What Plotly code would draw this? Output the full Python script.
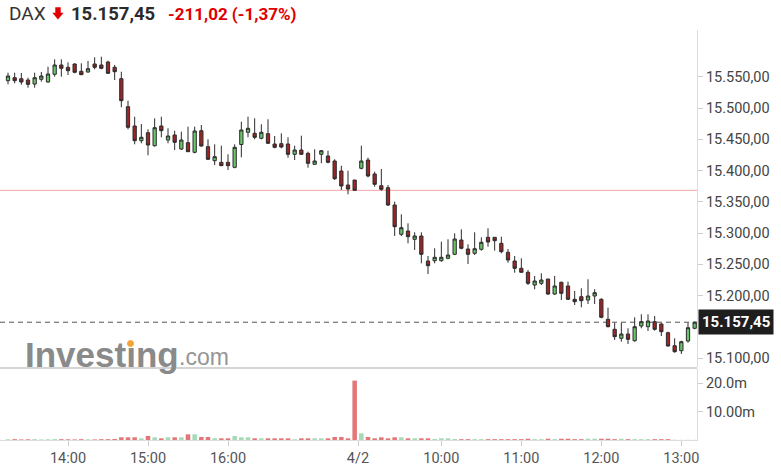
import plotly.graph_objects as go

# ---------------- data ----------------
opens = [15543.9, 15548.7, 15547.1, 15545.0, 15538.6, 15546.1, 15541.8, 15554.1, 15569.0, 15565.3,
         15570.6, 15558.9, 15557.8, 15570.6, 15569.0, 15573.8, 15565.3, 15547.1, 15502.3, 15471.4,
         15447.9, 15460.7, 15439.9, 15471.4, 15449.0, 15457.0, 15434.6, 15444.7, 15429.3, 15463.9,
         15438.3, 15415.9, 15413.3, 15413.3, 15405.3, 15441.8, 15461.3, 15459.7, 15451.7, 15459.1,
         15442.6, 15443.1, 15442.6, 15426.1, 15433.0, 15427.7, 15410.1, 15426.1, 15423.4, 15415.4,
         15399.4, 15377.0, 15385.0, 15403.7, 15417.0, 15394.6, 15375.9, 15372.7, 15345.0, 15298.1,
         15303.4, 15290.1, 15295.4, 15255.4, 15255.9, 15255.9, 15259.7, 15266.1, 15289.0, 15274.6,
         15267.7, 15274.1, 15293.3, 15293.3, 15283.7, 15269.3, 15255.4, 15243.7, 15237.3, 15217.0,
         15219.7, 15226.6, 15202.6, 15221.3, 15215.4, 15194.1, 15198.3, 15193.0, 15199.4, 15194.1,
         15162.1, 15146.1, 15131.7, 15138.6, 15127.9, 15151.4, 15150.3, 15158.3, 15154.6, 15140.7,
         15119.9, 15111.9, 15127.4, 15147.7]
highs = [15556.7, 15556.7, 15556.2, 15548.7, 15556.7, 15557.8, 15566.3, 15578.1, 15578.1, 15573.3,
         15571.7, 15571.7, 15575.4, 15581.3, 15582.3, 15575.9, 15569.0, 15558.3, 15511.9, 15486.3,
         15474.6, 15466.1, 15483.7, 15486.3, 15467.7, 15463.9, 15462.3, 15470.3, 15470.3, 15473.0,
         15450.1, 15442.1, 15439.9, 15426.1, 15442.1, 15478.3, 15486.3, 15483.7, 15474.1, 15482.1,
         15455.4, 15459.7, 15453.3, 15439.9, 15455.9, 15430.3, 15434.1, 15433.0, 15431.9, 15418.1,
         15407.9, 15399.9, 15385.0, 15439.9, 15420.7, 15398.3, 15402.6, 15377.0, 15350.3, 15330.1,
         15315.7, 15301.3, 15301.3, 15263.4, 15275.7, 15286.3, 15290.1, 15299.7, 15306.1, 15282.1,
         15301.3, 15293.3, 15307.7, 15293.3, 15294.3, 15274.6, 15263.4, 15259.7, 15241.0, 15231.4,
         15235.7, 15226.6, 15231.4, 15222.3, 15222.3, 15207.4, 15211.7, 15226.1, 15210.1, 15195.7,
         15180.7, 15156.7, 15156.7, 15147.7, 15165.3, 15170.1, 15170.1, 15167.4, 15155.7, 15142.3,
         15131.7, 15127.9, 15156.7, 15158.3]
lows = [15538.1, 15539.7, 15537.5, 15532.7, 15532.7, 15542.3, 15540.7, 15550.3, 15550.3, 15553.0,
        15555.7, 15553.0, 15556.7, 15562.1, 15562.1, 15554.6, 15545.0, 15501.3, 15466.1, 15442.1,
        15443.7, 15424.5, 15438.3, 15453.3, 15443.7, 15433.0, 15433.0, 15430.3, 15427.7, 15438.3,
        15417.0, 15409.0, 15407.4, 15401.0, 15403.7, 15421.3, 15453.3, 15450.1, 15450.1, 15442.6,
        15435.7, 15435.7, 15420.7, 15417.0, 15425.0, 15404.7, 15409.0, 15411.7, 15411.7, 15385.0,
        15369.0, 15362.1, 15367.9, 15402.1, 15389.3, 15374.3, 15367.9, 15343.4, 15295.4, 15295.4,
        15283.7, 15273.0, 15251.7, 15234.6, 15251.7, 15254.3, 15258.1, 15265.0, 15274.1, 15250.6,
        15265.0, 15271.9, 15278.3, 15271.9, 15267.7, 15252.7, 15236.7, 15236.7, 15217.0, 15210.1,
        15217.0, 15201.0, 15201.0, 15193.0, 15193.0, 15185.0, 15181.3, 15186.6, 15186.6, 15163.7,
        15149.3, 15129.0, 15126.3, 15122.6, 15126.3, 15147.7, 15143.4, 15143.9, 15135.4, 15118.3,
        15108.7, 15106.6, 15124.7, 15146.1]
closes = [15551.4, 15543.9, 15541.8, 15538.1, 15548.7, 15551.4, 15554.6, 15569.0, 15563.7, 15559.9,
          15557.3, 15553.5, 15563.1, 15565.3, 15563.7, 15555.7, 15558.3, 15511.9, 15469.3, 15447.9,
          15453.3, 15441.0, 15468.7, 15463.9, 15455.4, 15445.3, 15449.0, 15430.3, 15463.4, 15439.4,
          15418.1, 15422.3, 15407.9, 15407.9, 15437.3, 15465.0, 15467.7, 15453.3, 15461.3, 15443.7,
          15437.3, 15437.8, 15426.1, 15433.0, 15426.1, 15411.7, 15415.4, 15431.9, 15413.3, 15387.1,
          15375.4, 15370.6, 15368.5, 15415.4, 15391.4, 15378.1, 15370.1, 15345.0, 15310.3, 15308.7,
          15294.3, 15295.4, 15266.1, 15247.9, 15261.3, 15261.3, 15265.0, 15290.6, 15275.7, 15266.1,
          15275.1, 15285.3, 15285.8, 15287.9, 15270.3, 15257.0, 15243.7, 15237.3, 15219.7, 15223.4,
          15225.0, 15202.6, 15215.4, 15203.7, 15194.1, 15190.3, 15191.9, 15199.4, 15204.7, 15165.3,
          15150.3, 15134.3, 15138.6, 15130.1, 15150.3, 15158.3, 15159.4, 15146.1, 15142.3, 15119.4,
          15110.3, 15126.3, 15148.7, 15157.45]
# volume in millions
volumes = [0.25, 0.3, 0.2, 0.25, 0.3, 0.2, 0.25, 0.3, 0.3, 0.25,
           0.2, 0.3, 0.25, 0.2, 0.3, 0.3, 0.35, 0.95, 0.95, 0.95,
           0.6, 1.4, 0.95, 0.6, 0.95, 0.95, 0.95, 2.0, 2.0, 1.05,
           1.05, 0.6, 0.6, 0.6, 1.4, 0.95, 0.95, 0.6, 0.6, 0.6,
           0.6, 0.6, 0.6, 0.25, 0.6, 0.6, 0.6, 0.6, 0.6, 1.05,
           1.05, 0.6, 20.9, 2.35, 1.05, 0.6, 0.95, 0.6, 0.95, 0.95,
           0.6, 0.6, 0.6, 0.6, 0.35, 0.6, 0.6, 0.35, 0.3, 0.3,
           0.3, 0.3, 0.3, 0.3, 0.3, 0.3, 0.3, 0.3, 0.45, 0.3,
           0.3, 0.45, 0.3, 0.45, 0.45, 0.3, 0.3, 0.45, 0.45, 0.45,
           0.45, 0.3, 0.45, 0.3, 0.3, 0.3, 0.3, 0.3, 0.3, 0.3,
           0.05, 0.05, 0.05, 0.05]

day1_times = ["13:15", "13:20", "13:25", "13:30", "13:35", "13:40", "13:45", "13:50", "13:55",
              "14:00", "14:05", "14:10", "14:15", "14:20", "14:25", "14:30", "14:35", "14:40", "14:45", "14:50", "14:55",
              "15:00", "15:05", "15:10", "15:15", "15:20", "15:25", "15:30", "15:35", "15:40", "15:45", "15:50", "15:55",
              "16:00", "16:05", "16:10", "16:15", "16:20", "16:25", "16:30", "16:35", "16:40", "16:45", "16:50", "16:55",
              "17:00", "17:05", "17:10", "17:15", "17:20", "17:25", "17:30", "17:35"]
day2_times = ["09:00", "09:05", "09:10", "09:15", "09:20", "09:25", "09:30", "09:35", "09:40", "09:45", "09:50", "09:55",
              "10:00", "10:05", "10:10", "10:15", "10:20", "10:25", "10:30", "10:35", "10:40", "10:45", "10:50", "10:55",
              "11:00", "11:05", "11:10", "11:15", "11:20", "11:25", "11:30", "11:35", "11:40", "11:45", "11:50", "11:55",
              "12:00", "12:05", "12:10", "12:15", "12:20", "12:25", "12:30", "12:35", "12:40", "12:45", "12:50", "12:55",
              "13:00", "13:05", "13:10"]
times = day1_times + day2_times
day2_label = "4/2"
tick_labels = ["14:00", "15:00", "16:00", "4/2", "10:00", "11:00", "12:00", "13:00"]

price_ticks = [15100, 15200, 15250, 15300, 15350, 15400, 15450, 15500, 15550]
vol_ticks = [10, 20]
vol_tick_text = ["10.00m", "20.0m"]

prev_close = 15368.47
last_price = closes[-1]
header_name = "DAX"
header_price = "15.157,45"
header_change = "-211,02 (-1,37%)"

# ---------------- figure ----------------
x = list(range(len(closes)))
day2_start = len(day1_times)
tickvals = []
for lab in tick_labels:
    if lab == day2_label:
        tickvals.append(day2_start - 0.5)
    else:
        tickvals.append(times.index(lab))

vol_colors = ["rgba(160,215,180,0.95)" if c >= o else "rgba(226,112,112,0.95)" for o, c in zip(opens, closes)]

W, H = 781, 476
ML, MR, MT, MB = 0, 84, 30, 36
PW, PH = W - ML - MR, H - MT - MB


def px(xp):
    return (xp - ML) / PW


def py(yp):
    return (H - MB - yp) / PH


fig = go.Figure()
fig.add_trace(go.Bar(x=x, y=volumes, marker=dict(color=vol_colors, line=dict(width=0)),
                     width=0.68, xaxis="x", yaxis="y", hoverinfo="skip"))
fig.add_trace(go.Candlestick(x=x, open=opens, high=highs, low=lows, close=closes,
                             increasing=dict(line=dict(color="#2c2c2c", width=1), fillcolor="#6cc46c"),
                             decreasing=dict(line=dict(color="#2c2c2c", width=1), fillcolor="#9a2626"),
                             whiskerwidth=0, xaxis="x", yaxis="y2", hoverinfo="skip"))

axis_font = dict(family="Roboto", size=14.5, color="#444")
fig.update_layout(
    width=W, height=H,
    margin=dict(l=ML, r=MR, t=MT, b=MB, pad=0),
    paper_bgcolor="white", plot_bgcolor="white",
    showlegend=False,
    separators=",.",
    font=dict(family="Roboto", color="#333"),
    xaxis=dict(range=[-1.2, 103.35], tickmode="array", tickvals=tickvals, ticktext=tick_labels,
               ticks="outside", ticklen=5, tickcolor="#cccccc", showline=True, linecolor="#dddddd",
               showgrid=False, zeroline=False, tickfont=dict(family="Roboto", size=14.5, color="#555"),
               rangeslider=dict(visible=False), anchor="y"),
    yaxis=dict(domain=[0, (H - MB - 369) / PH], side="right", range=[0, 25], tickmode="array",
               tickvals=vol_ticks, ticktext=vol_tick_text, ticks="outside", ticklen=5, tickcolor="#cccccc",
               showgrid=False, zeroline=False, showline=True, linecolor="#dddddd", tickfont=axis_font,
               anchor="x"),
    yaxis2=dict(domain=[(H - MB - 367) / PH, 1], side="right", range=[15085.8, 15625], tickmode="array",
                tickvals=price_ticks, tickformat=",.2f", ticks="outside", ticklen=5, tickcolor="#cccccc",
                showgrid=False, zeroline=False, showline=True, linecolor="#dddddd", tickfont=axis_font,
                anchor="x"),
)

shapes = [
    # separator between price and volume panels
    dict(type="line", xref="paper", yref="paper", x0=0, x1=1, y0=py(368), y1=py(368),
         line=dict(color="#d4d4d4", width=2)),
    # previous close
    dict(type="line", xref="paper", yref="y2", x0=0, x1=1, y0=prev_close, y1=prev_close,
         line=dict(color="#f4a4a4", width=1), layer="below"),
    # last price
    dict(type="line", xref="paper", yref="y2", x0=0, x1=1, y0=last_price, y1=last_price,
         line=dict(color="#555555", width=1, dash="5px,4px"), layer="below"),
]
arrow_pts = [(55.3, 7.3), (60.7, 7.3), (60.7, 12.7), (63.6, 12.7), (58.0, 19.5), (52.3, 12.7), (55.3, 12.7)]
path = "M " + " L ".join(f"{px(a):.5f},{py(b):.5f}" for a, b in arrow_pts) + " Z"
shapes.append(dict(type="path", xref="paper", yref="paper", path=path,
                   fillcolor="#e00000", line=dict(width=0)))
# orange dot of the watermark logo (above the dotless i)
shapes.append(dict(type="circle", xref="paper", yref="paper", layer="above",
                   x0=px(127.5), x1=px(133.5), y0=py(346.5), y1=py(340.5),
                   fillcolor="#f2a33a", line=dict(color="#f2a33a", width=1)))
fig.update_layout(shapes=shapes)

last_txt = f"{last_price:,.2f}".replace(",", "X").replace(".", ",").replace("X", ".")
annotations = [
    dict(xref="paper", yref="paper", x=px(7), y=py(14), xanchor="left", yanchor="middle",
         text=header_name, showarrow=False, font=dict(family="Roboto", size=19, color="#333")),
    dict(xref="paper", yref="paper", x=px(69), y=py(14), xanchor="left", yanchor="middle",
         text=f"<b>{header_price}</b>", showarrow=False, font=dict(family="Roboto", size=18.5, color="#2b2b2b")),
    dict(xref="paper", yref="paper", x=px(166), y=py(14), xanchor="left", yanchor="middle",
         text=f"<b>{header_change}</b>", showarrow=False, font=dict(family="Roboto", size=17, color="#e00000")),
    # watermark
    dict(xref="paper", yref="paper", x=px(23), y=py(354), xanchor="left", yanchor="middle",
         text="<b>Invest\u0131ng</b>", showarrow=False,
         font=dict(family="Liberation Sans", size=35, color="#8a8a8a")),
    dict(xref="paper", yref="paper", x=px(177), y=py(357), xanchor="left", yanchor="middle",
         text=".com", showarrow=False, font=dict(family="Liberation Sans", size=23, color="#959595")),
    # current price box
    dict(xref="paper", yref="y2", x=1, xshift=1, y=last_price, xanchor="left", yanchor="middle",
         text=f"<b>{last_txt}</b>", showarrow=False, bgcolor="#1e1e1e", borderpad=3,
         font=dict(family="Roboto", size=15, color="white")),
]
fig.update_layout(annotations=annotations)

fig.write_html("out.html", config={"displayModeBar": False, "staticPlot": True},
               post_script="document.body.style.margin='0';document.body.style.overflow='hidden';")
